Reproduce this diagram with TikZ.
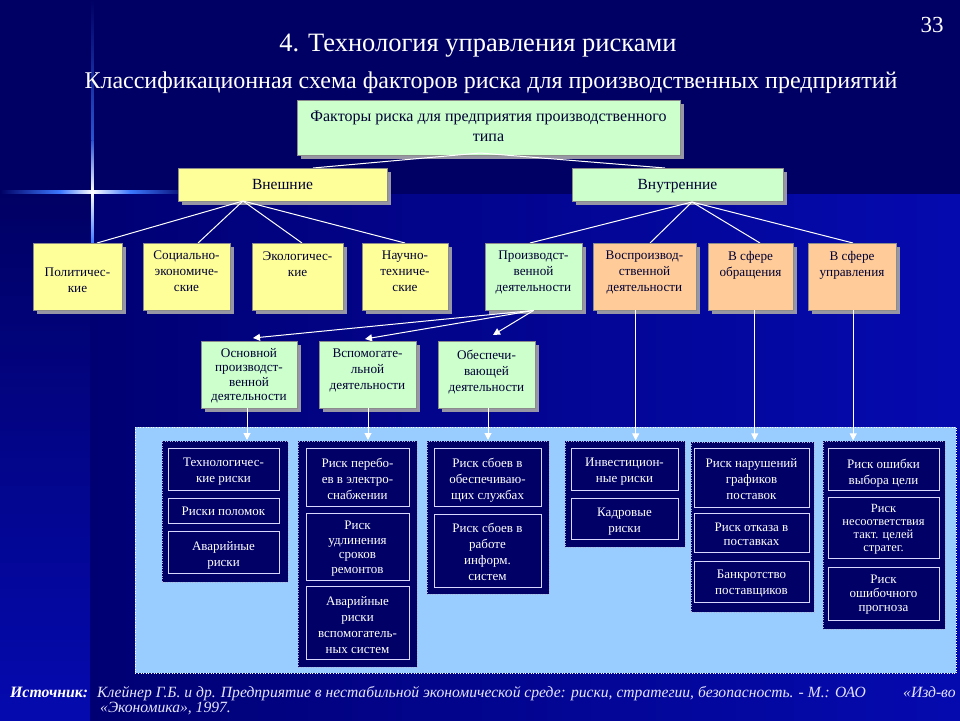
\documentclass[tikz,border=0pt]{standalone}
\usepackage{fontspec}
\setmainfont{Liberation Serif}
\usetikzlibrary{arrows.meta,calc}
\definecolor{bgdark}{RGB}{0,0,100}
\definecolor{bgmid}{RGB}{0,0,115}
\definecolor{bgblue}{RGB}{5,10,175}
\definecolor{yel}{RGB}{255,255,153}
\definecolor{grn}{RGB}{204,255,204}
\definecolor{pch}{RGB}{255,204,153}
\definecolor{panel}{RGB}{153,204,255}
\definecolor{navy}{RGB}{0,0,102}
\definecolor{ink}{RGB}{0,0,51}
\definecolor{shad}{RGB}{150,150,165}
\definecolor{lav}{RGB}{215,215,255}
\definecolor{flare}{RGB}{60,120,255}
\tikzset{
  boxtxt/.style={inner sep=0pt, align=center, text=ink, font=\fontsize{13.2}{16}\selectfont},
  wtxt/.style={inner sep=0pt, align=center, text=white, font=\fontsize{13}{16}\selectfont},
  pastel/.style={draw=black!45, line width=0.4pt, inner sep=0pt, anchor=north west},
  inner/.style={draw=lav, line width=1.3pt, fill=navy, inner sep=0pt, anchor=north west},
  colbox/.style={fill=navy, draw=white!70!navy, dotted, line width=0.5pt, inner sep=0pt, anchor=north west},
  wline/.style={draw=white, line width=1pt},
  warrow/.style={draw=white, line width=1pt, -{Triangle[width=7pt,length=7pt]}},
  foot/.style={text=white!90!blue, font=\fontsize{15.6}{16}\selectfont\itshape, anchor=base west, inner sep=0pt},
}
% #1 text style, #2 name, #3 fill, #4 x1, #5 y1, #6 x2, #7 y2, #8 text top, #9 text
\newcommand\pbox[9][]{%
  \fill[shad] ({#4+4},{#5+4}) rectangle ({#6+4},{#7+4});
  \node[pastel, fill=#3, minimum width={(#6-#4)*1pt}, minimum height={(#7-#5)*1pt}] (#2) at (#4,#5) {};
  \node[boxtxt, anchor=north, #1] (#2-t) at ({(#4+#6)/2},#8) {#9};
}
% #1 text style, #2 name, #3 x1, #4 y1, #5 x2, #6 y2, #7 text top, #8 text
\newcommand\dbox[8][]{%
  \node[inner, minimum width={(#5-#3)*1pt}, minimum height={(#6-#4)*1pt}] (#2) at (#3,#4) {};
  \node[wtxt, anchor=north, #1] (#2-t) at ({(#3+#5)/2},#7) {#8};
}
\newcommand\cbox[5]{%
  \node[colbox, minimum width={(#4-#2)*1pt}, minimum height={(#5-#3)*1pt}] (#1) at (#2,#3) {};
}
\begin{document}
\begin{tikzpicture}[x=1pt,y=-1pt]
\useasboundingbox (0,0) rectangle (960,720);
% background
\fill[bgdark] (0,0) rectangle (960,194);
\shade[left color=bgmid, right color=bgblue] (90,194) rectangle (960,720);
\shade[top color=bgdark, bottom color=bgblue] (0,194) rectangle (90,720);
% flare
\shade[left color=bgdark, right color=flare] (0,190.8) rectangle (60,193.2);
\shade[left color=flare, right color=white] (60,190.8) rectangle (92.5,193.2);
\shade[left color=white, right color=flare] (92.5,190.8) rectangle (130,193.2);
\shade[left color=flare, right color=bgdark] (130,190.8) rectangle (190,193.2);
\shade[top color=bgdark, bottom color=flare!70!bgdark] (91.5,0) rectangle (93.5,140);
\shade[top color=flare!70!bgdark, bottom color=white] (91.3,140) rectangle (93.7,192);
\shade[top color=white, bottom color=flare] (91.3,192) rectangle (93.7,243);

% titles
\node[text=white, font=\fontsize{23}{24}\selectfont, anchor=base] (num) at (932,32) {33};
\node[text=white, font=\fontsize{26.5}{28}\selectfont, anchor=base] (title) at (478,51) {4. Технология управления рисками};
\node[text=white, font=\fontsize{24}{26}\selectfont, anchor=base] (subtitle) at (491,88) {Классификационная схема факторов риска для производственных предприятий};

% panel
\node[fill=panel, draw=white, dotted, line width=0.6pt, inner sep=0pt, anchor=north west, minimum width=821pt, minimum height=246pt] (panel) at (135,427) {};

% connector coordinates
\coordinate (apx0) at (480,153);
\coordinate (apxE) at (243,201);
\coordinate (apxI) at (692,202);

% level 0 and 1
\pbox[font=\fontsize{16}{20}\selectfont]{top}{grn}{297}{100}{680}{155}{111}{Факторы риска для предприятия производственного\\типа}
\draw[wline] (apx0) -- (313,168);
\draw[wline] (apx0) -- (665,168);
\pbox[font=\fontsize{15.5}{20}\selectfont]{ext}{yel}{178}{168}{387}{201}{179}{Внешние}
\pbox[font=\fontsize{15.5}{20}\selectfont]{int}{grn}{572}{168}{783}{201}{179}{Внутренние}

% level 2 lines
\draw[wline] (apxE) -- (97,243);
\draw[wline] (apxE) -- (198,243);
\draw[wline] (apxE) -- (302,243);
\draw[wline] (apxE) -- (405,243);
\draw[wline] (apxI) -- (530,243);
\draw[wline] (apxI) -- (650,243);
\draw[wline] (apxI) -- (760,243);
\draw[wline] (apxI) -- (853,243);

\pbox{pol}{yel}{33}{243}{122}{310}{268}{Политичес-\\кие}
\pbox{soc}{yel}{143}{243}{230}{310}{251}{Социально-\\экономиче-\\ские}
\pbox{eco}{yel}{252}{243}{343}{310}{252}{Экологичес-\\кие}
\pbox{sci}{yel}{362}{243}{448}{310}{251}{Научно-\\техниче-\\ские}
\pbox{prod}{grn}{485}{243}{582}{310}{251}{Производст-\\венной\\деятельности}
\pbox{vos}{pch}{593}{243}{696}{310}{251}{Воспроизвод-\\ственной\\деятельности}
\pbox{obr}{pch}{708}{243}{793}{310}{251}{В сфере\\обращения}
\pbox{upr}{pch}{808}{243}{896}{310}{251}{В сфере\\управления}

% level 3
\draw[warrow] (prod.south) -- (253,338);
\draw[warrow] (prod.south) -- (365,339);
\draw[warrow] (prod.south) -- (493,335);
\pbox[font=\fontsize{13.2}{14.5}\selectfont]{osn}{grn}{201}{341}{297}{408}{348}{Основной\\производст-\\венной\\деятельности}
\pbox{vsp}{grn}{319}{341}{416}{408}{349}{Вспомогате-\\льной\\деятельности}
\pbox{obs}{grn}{438}{341}{535}{408}{350}{Обеспечи-\\вающей\\деятельности}

% columns
\cbox{c1}{162}{441}{288}{582}
\cbox{c2}{298}{441}{417}{667}
\cbox{c3}{427}{441}{549}{594}
\cbox{c4}{565}{441}{685}{547}
\cbox{c5}{691}{442}{814}{612}
\cbox{c6}{823}{441}{945}{629}

% vertical arrows
\draw[warrow] (247,408) -- (247,440);
\draw[warrow] (368,408) -- (368,440);
\draw[warrow] (488,408) -- (488,440);
\draw[warrow] ($(vos.south)+(-9,0)$) -- ($(vos.south)+(-9,130)$);
\draw[warrow] ($(obr.south)+(4,0)$) -- ($(obr.south)+(4,130)$);
\draw[warrow] ($(upr.south)+(1,0)$) -- ($(upr.south)+(1,130)$);

% column 1
\dbox{a1}{168}{448}{279}{490}{458}{Технологичес-\\кие риски}
\dbox{a2}{168}{498}{279}{523}{507}{Риски поломок}
\dbox{a3}{168}{531}{279}{573}{541}{Аварийные\\риски}
% column 2
\dbox{b1}{306}{448}{409}{506}{458}{Риск перебо-\\ев в электро-\\снабжении}
\dbox[font=\fontsize{13}{14.5}\selectfont]{b2}{306}{513}{409}{580}{521}{Риск\\удлинения\\сроков\\ремонтов}
\dbox{b3}{306}{586}{409}{659}{596}{Аварийные\\риски\\вспомогатель-\\ных систем}
% column 3
\dbox{d1}{434}{448}{541}{506}{458}{Риск сбоев в\\обеспечиваю-\\щих службах}
\dbox{d2}{434}{514}{541}{587}{523}{Риск сбоев в\\работе\\информ.\\систем}
% column 4
\dbox{e1}{571}{448}{678}{490}{458}{Инвестицион-\\ные риски}
\dbox{e2}{571}{498}{678}{539}{508}{Кадровые\\риски}
% column 5
\dbox{f1}{694}{448}{809}{507}{458}{Риск нарушений\\графиков\\поставок}
\dbox[font=\fontsize{13}{13.5}\selectfont]{f2}{694}{513}{809}{552}{523}{Риск отказа в\\поставках}
\dbox{f3}{694}{561}{809}{602}{570}{Банкротство\\поставщиков}
% column 6
\dbox{g1}{828}{448}{939}{490}{459}{Риск ошибки\\выбора цели}
\dbox[font=\fontsize{12.5}{13}\selectfont]{g2}{828}{497}{939}{558}{504}{Риск\\несоответствия\\такт. целей\\стратег.}
\dbox[font=\fontsize{13}{14}\selectfont]{g3}{828}{567}{939}{620}{575}{Риск\\ошибочного\\прогноза}

% footer
\node[text=white, font=\fontsize{15.8}{16}\selectfont\bfseries\itshape, anchor=base west, inner sep=0pt] (src) at (10,697) {Источник:};
\node[foot] (ref1) at (97,697) {Клейнер Г.Б. и др. Предприятие в нестабильной экономической среде: риски, стратегии, безопасность. - М.: ОАО};
\node[foot] (ref2) at (903,697) {«Изд-во};
\node[foot] (ref3) at (100,712) {«Экономика», 1997.};
\end{tikzpicture}
\end{document}
